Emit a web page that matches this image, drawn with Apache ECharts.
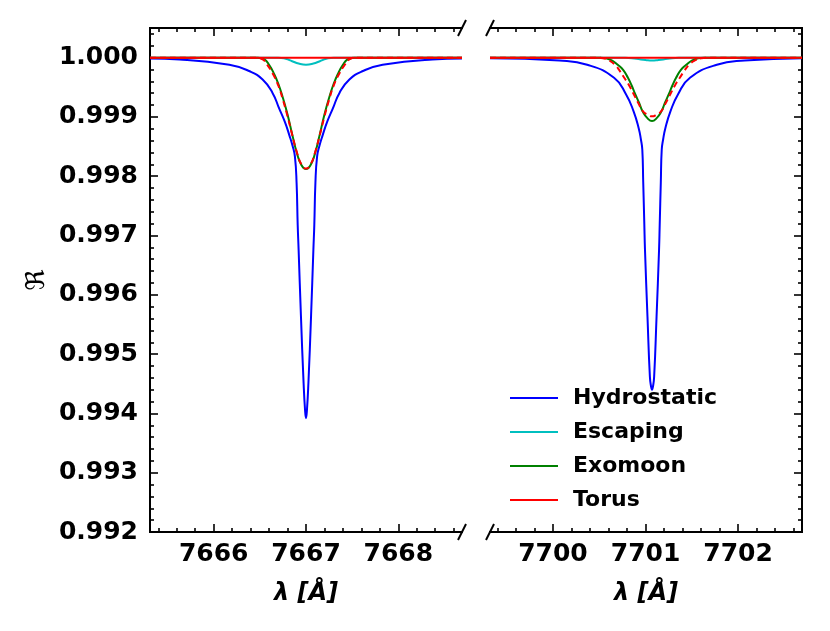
<!DOCTYPE html>
<html>
<head>
    <meta charset="utf-8">
    <title>Line profiles</title>
    <script src="https://cdn.jsdelivr.net/npm/echarts@6/dist/echarts.min.js"></script>
    <style type="text/css">
        html, body { margin: 0; padding: 0; background: #fff; }
        #chart { width: 830px; height: 631px; }
    </style>
</head>
<body>
<div id="chart"></div>
<script>
    // 左面板 (7667 Å 附近)
    var leftRange = [7665.31, 7668.69];
    var leftMajorTicks = [7666, 7667, 7668];
    var leftMinorTicks = [7665.4, 7665.6, 7665.8, 7666.2, 7666.4, 7666.6, 7666.8, 7667.2, 7667.4, 7667.6, 7667.8, 7668.2, 7668.4, 7668.6];

    var leftHydrostatic = [
        [7665.31, 0.999985], [7665.63, 0.99997], [7666.17, 0.99988], [7666.39, 0.99977], [7666.53, 0.99963],
        [7666.636, 0.99941], [7666.71, 0.99914], [7666.77, 0.99892], [7666.82, 0.99869], [7666.855, 0.99851],
        [7666.88, 0.99833], [7666.898, 0.99789], [7666.91, 0.99718], [7666.92, 0.99676], [7666.945, 0.99565],
        [7666.974, 0.99451], [7666.99, 0.99405], [7667.00, 0.99392], [7667.01, 0.99405], [7667.026, 0.99451],
        [7667.055, 0.99565], [7667.08, 0.99676], [7667.09, 0.99718], [7667.102, 0.99789], [7667.12, 0.99833],
        [7667.145, 0.99851], [7667.18, 0.99869], [7667.23, 0.99892], [7667.29, 0.99914], [7667.364, 0.99941],
        [7667.47, 0.99963], [7667.61, 0.99977], [7667.83, 0.99988], [7668.37, 0.99997], [7668.69, 0.999985]
    ];
    var leftEscaping = [
        [7665.31, 1.0], [7666.70, 1.0], [7666.78, 0.99998], [7666.85, 0.99994], [7666.92, 0.99990],
        [7667.00, 0.99988], [7667.08, 0.99990], [7667.15, 0.99994], [7667.22, 0.99998], [7667.30, 1.0],
        [7668.69, 1.0]
    ];
    var leftExomoon = [
        [7665.31, 1.0], [7666.48, 1.0], [7666.55, 0.99997], [7666.60, 0.99988], [7666.65, 0.99974],
        [7666.70, 0.99956], [7666.75, 0.99932], [7666.80, 0.99904], [7666.85, 0.99871], [7666.90, 0.99840],
        [7666.95, 0.99819], [7667.00, 0.99812], [7667.05, 0.99819], [7667.10, 0.99840], [7667.15, 0.99871],
        [7667.20, 0.99904], [7667.25, 0.99932], [7667.30, 0.99956], [7667.35, 0.99974], [7667.40, 0.99988],
        [7667.45, 0.99997], [7667.52, 1.0], [7668.69, 1.0]
    ];
    var leftTorusDashed = [
        [7665.31, 1.0], [7666.45, 1.0], [7666.53, 0.99997], [7666.58, 0.99988], [7666.64, 0.99973],
        [7666.70, 0.99953], [7666.75, 0.99929], [7666.80, 0.99901], [7666.85, 0.99870], [7666.90, 0.99841],
        [7666.95, 0.99820], [7667.00, 0.99813], [7667.05, 0.99820], [7667.10, 0.99841], [7667.15, 0.99870],
        [7667.20, 0.99901], [7667.25, 0.99929], [7667.30, 0.99953], [7667.36, 0.99973], [7667.42, 0.99988],
        [7667.47, 0.99997], [7667.55, 1.0], [7668.69, 1.0]
    ];
    var leftTorus = [[7665.31, 1.0], [7668.69, 1.0]];

    // 右面板 (7701 Å 附近)
    var rightRange = [7699.32, 7702.69];
    var rightMajorTicks = [7700, 7701, 7702];
    var rightMinorTicks = [7699.4, 7699.6, 7699.8, 7700.2, 7700.4, 7700.6, 7700.8, 7701.2, 7701.4, 7701.6, 7701.8, 7702.2, 7702.4, 7702.6];

    var rightHydrostatic = [
        [7699.32, 0.99999], [7700.07, 0.99995], [7700.37, 0.99988], [7700.66, 0.99966], [7700.79, 0.99938],
        [7700.872, 0.99909], [7700.926, 0.99881], [7700.95, 0.99862], [7700.965, 0.99845], [7700.975, 0.99790],
        [7700.987, 0.99718], [7700.994, 0.99676], [7701.021, 0.99563], [7701.047, 0.99462], [7701.06, 0.99445],
        [7701.07, 0.99440], [7701.08, 0.99445], [7701.093, 0.99462], [7701.119, 0.99563], [7701.146, 0.99676],
        [7701.153, 0.99718], [7701.165, 0.99790], [7701.175, 0.99845], [7701.19, 0.99862], [7701.214, 0.99881],
        [7701.268, 0.99909], [7701.35, 0.99938], [7701.48, 0.99966], [7701.77, 0.99988], [7702.07, 0.99995],
        [7702.69, 0.99999]
    ];
    var rightEscaping = [
        [7699.32, 1.0], [7700.78, 1.0], [7700.90, 0.99998], [7701.00, 0.99996], [7701.07, 0.99995],
        [7701.14, 0.99996], [7701.24, 0.99998], [7701.36, 1.0], [7702.69, 1.0]
    ];
    var rightExomoon = [
        [7699.32, 1.0], [7700.51, 1.0], [7700.57, 0.99999], [7700.64, 0.99995], [7700.70, 0.99988],
        [7700.76, 0.99979], [7700.81, 0.99966], [7700.85, 0.99953], [7700.89, 0.99938], [7700.93, 0.99924],
        [7700.97, 0.99909], [7701.02, 0.99898], [7701.07, 0.99893], [7701.12, 0.99898], [7701.17, 0.99909],
        [7701.21, 0.99924], [7701.25, 0.99938], [7701.29, 0.99953], [7701.33, 0.99966], [7701.38, 0.99979],
        [7701.44, 0.99988], [7701.50, 0.99995], [7701.57, 0.99999], [7701.63, 1.0], [7702.69, 1.0]
    ];
    var rightTorusDashed = [
        [7699.32, 1.0], [7700.47, 1.0], [7700.54, 0.99999], [7700.61, 0.99995], [7700.67, 0.99988],
        [7700.72, 0.99978], [7700.77, 0.99966], [7700.82, 0.99954], [7700.87, 0.99939], [7700.92, 0.99924],
        [7700.97, 0.99910], [7701.02, 0.99904], [7701.07, 0.99901], [7701.12, 0.99904], [7701.17, 0.99910],
        [7701.22, 0.99924], [7701.27, 0.99939], [7701.32, 0.99954], [7701.37, 0.99966], [7701.42, 0.99978],
        [7701.47, 0.99988], [7701.53, 0.99995], [7701.60, 0.99999], [7701.67, 1.0], [7702.69, 1.0]
    ];
    var rightTorus = [[7699.32, 1.0], [7702.69, 1.0]];

    // y 轴
    var yRange = [0.992, 1.0005];
    var yMajorTicks = [0.992, 0.993, 0.994, 0.995, 0.996, 0.997, 0.998, 0.999, 1.000];
    var yMinorTicks = [0.9922, 0.9924, 0.9926, 0.9928, 0.9932, 0.9934, 0.9936, 0.9938, 0.9942, 0.9944, 0.9946, 0.9948,
        0.9952, 0.9954, 0.9956, 0.9958, 0.9962, 0.9964, 0.9966, 0.9968, 0.9972, 0.9974, 0.9976, 0.9978,
        0.9982, 0.9984, 0.9986, 0.9988, 0.9992, 0.9994, 0.9996, 0.9998, 1.0002, 1.0004];

    var legendNames = ['Hydrostatic', 'Escaping', 'Exomoon', 'Torus'];
    var colors = { Hydrostatic: '#0000ff', Escaping: '#00bfbf', Exomoon: '#008000', Torus: '#ff0000' };

    var FONT = 'DejaVu Sans';
    var G0 = { left: 150, top: 28, width: 312, height: 504 };
    var G1 = { left: 490, top: 28, width: 312, height: 504 };

    function xAx(grid, range, pos, ticks, len, main, name) {
        return {
            type: 'value', gridIndex: grid, position: pos,
            min: range[0], max: range[1],
            name: main ? name : '', nameLocation: 'middle', nameGap: 50,
            nameTextStyle: { fontFamily: FONT, fontWeight: 'bold', fontStyle: 'italic', fontSize: 24, color: '#000' },
            axisLine: { show: true, lineStyle: { color: '#000', width: 2 } },
            axisTick: { show: true, inside: true, length: len, customValues: ticks, lineStyle: { color: '#000', width: 1.6 } },
            axisLabel: main ? {
                show: true, customValues: ticks, margin: 10,
                fontFamily: FONT, fontWeight: 'bold', fontSize: 25, color: '#000',
                formatter: function (v) { return String(Math.round(v)); }
            } : { show: false },
            splitLine: { show: false }
        };
    }

    function yAx(grid, pos, ticks, len, label) {
        return {
            type: 'value', gridIndex: grid, position: pos,
            min: yRange[0], max: yRange[1],
            name: label ? 'ℜ' : '', nameLocation: 'middle', nameGap: 100,
            nameTextStyle: { fontFamily: FONT, fontSize: 26, color: '#000' },
            axisLine: { show: true, lineStyle: { color: '#000', width: 2 } },
            axisTick: { show: true, inside: true, length: len, customValues: ticks, lineStyle: { color: '#000', width: 1.6 } },
            axisLabel: label ? {
                show: true, customValues: ticks, margin: 12,
                fontFamily: FONT, fontWeight: 'bold', fontSize: 25, color: '#000',
                formatter: function (v) { return v.toFixed(3); }
            } : { show: false },
            splitLine: { show: false }
        };
    }

    function line(name, data, xi, yi, dashed, z) {
        var c = colors[name] || '#ff0000';
        return {
            name: name, type: 'line', data: data,
            xAxisIndex: xi, yAxisIndex: yi,
            symbol: 'none', smooth: 0.5, z: z,
            lineStyle: { color: c, width: 2, type: dashed ? [6, 4] : 'solid' },
            itemStyle: { color: c }
        };
    }

    // 断轴的斜线
    function slash(x, y) {
        return {
            type: 'line', z: 100,
            shape: { x1: x - 4, y1: y + 8, x2: x + 4, y2: y - 8 },
            style: { stroke: '#000', lineWidth: 2 }
        };
    }

    var chart = echarts.init(document.getElementById('chart'), null, { renderer: 'canvas' });
    var option = {
        backgroundColor: '#ffffff',
        animation: false,
        grid: [G0, G1],
        xAxis: [
            xAx(0, leftRange, 'bottom', leftMajorTicks, 8, true, 'λ [Å]'),
            xAx(0, leftRange, 'top', leftMajorTicks, 8, false),
            xAx(0, leftRange, 'bottom', leftMinorTicks, 4, false),
            xAx(0, leftRange, 'top', leftMinorTicks, 4, false),
            xAx(1, rightRange, 'bottom', rightMajorTicks, 8, true, 'λ [Å]'),
            xAx(1, rightRange, 'top', rightMajorTicks, 8, false),
            xAx(1, rightRange, 'bottom', rightMinorTicks, 4, false),
            xAx(1, rightRange, 'top', rightMinorTicks, 4, false)
        ],
        yAxis: [
            yAx(0, 'left', yMajorTicks, 8, true),
            yAx(0, 'left', yMinorTicks, 4, false),
            yAx(1, 'right', yMajorTicks, 8, false),
            yAx(1, 'right', yMinorTicks, 4, false)
        ],
        legend: {
            data: legendNames.map(function (n) { return { name: n, icon: 'rect' }; }),
            orient: 'vertical',
            left: 505, top: 382,
            padding: 5,
            itemWidth: 48, itemHeight: 2, itemGap: 12,
            textStyle: { fontFamily: FONT, fontWeight: 'bold', fontSize: 22, color: '#000', padding: [0, 0, 0, 10] }
        },
        graphic: [
            slash(G0.left + G0.width, G0.top), slash(G0.left + G0.width, G0.top + G0.height),
            slash(G1.left, G1.top), slash(G1.left, G1.top + G1.height)
        ],
        series: [
            line('Hydrostatic', leftHydrostatic, 0, 0, false, 2),
            line('Escaping', leftEscaping, 0, 0, false, 3),
            line('Exomoon', leftExomoon, 0, 0, false, 4),
            line('Torus (dashed)', leftTorusDashed, 0, 0, true, 5),
            line('Torus', leftTorus, 0, 0, false, 6),
            line('Hydrostatic', rightHydrostatic, 4, 2, false, 2),
            line('Escaping', rightEscaping, 4, 2, false, 3),
            line('Exomoon', rightExomoon, 4, 2, false, 4),
            line('Torus (dashed)', rightTorusDashed, 4, 2, true, 5),
            line('Torus', rightTorus, 4, 2, false, 6)
        ]
    };
    chart.setOption(option);
</script>
</body>
</html>
